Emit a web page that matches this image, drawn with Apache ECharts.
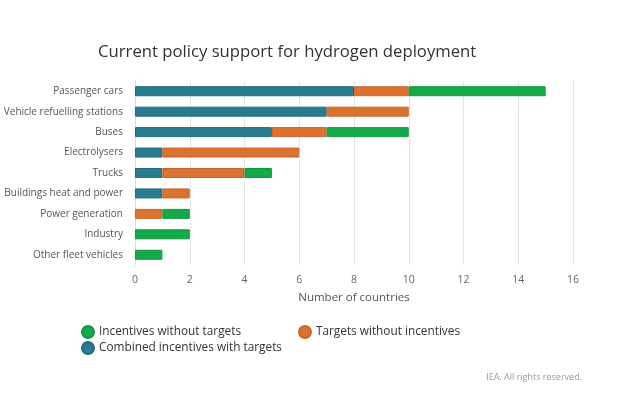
<!DOCTYPE html>
<html>
<head>
<meta charset="utf-8">
<script src="https://cdn.jsdelivr.net/npm/echarts@6/dist/echarts.min.js"></script>
<style>
html,body{margin:0;padding:0;background:#fff;}
#main{width:640px;height:399px;}
</style>
</head>
<body>
<div id="main"></div>
<script>
// categories top to bottom
var categories = ['Passenger cars','Vehicle refuelling stations','Buses','Electrolysers','Trucks','Buildings heat and power','Power generation','Industry','Other fleet vehicles'];
var combined = [8, 7, 5, 1, 1, 1, 0, 0, 0];
var targetsOnly = [2, 3, 2, 5, 3, 1, 1, 0, 0];
var incentivesOnly = [5, 0, 3, 0, 1, 0, 1, 2, 1];
var xTicks = [0, 2, 4, 6, 8, 10, 12, 14, 16];

var font = '"Open Sans", "Noto Sans", sans-serif';
var colBlue = '#2b7b90', colOrange = '#d9732f', colGreen = '#14aa4b';

function barSeries(name, data, color, border){
    return {
        name: name,
        type: 'bar',
        stack: 'all',
        data: data.map(function(v){ return v === 0 ? null : v; }),
        barWidth: 10,
        itemStyle: {color: color, borderColor: border, borderWidth: 1},
        emphasis: {disabled: true}
    };
}

var myChart = echarts.init(document.getElementById('main'));
var option = {
    animation: false,
    textStyle: {fontFamily: font},
    title: {
        text: 'Current policy support for hydrogen deployment',
        left: 93, top: 39,
        textStyle: {fontFamily: font, fontSize: 16.7, fontWeight: 'normal', color: '#333'}
    },
    legend: [{
        left: 76, top: 320, orient: 'vertical', itemGap: 2,
        icon: 'circle', itemWidth: 12, itemHeight: 12,
        textStyle: {fontFamily: font, fontSize: 11.8, color: '#333'},
        data: ['Incentives without targets', 'Combined incentives with targets']
    }, {
        left: 293, top: 320,
        icon: 'circle', itemWidth: 12, itemHeight: 12,
        textStyle: {fontFamily: font, fontSize: 11.8, color: '#333'},
        data: ['Targets without incentives']
    }],
    grid: {left: 135, right: 67, top: 81, bottom: 134, containLabel: false, outerBoundsMode: 'none'},
    xAxis: {
        type: 'value', min: 0, max: 16, interval: 2,
        name: 'Number of countries', nameLocation: 'middle', nameGap: 27,
        nameTextStyle: {fontFamily: font, fontSize: 11.5, color: '#555'},
        axisLine: {show: false},
        axisTick: {show: false},
        axisLabel: {color: '#666', fontSize: 10.5, margin: 10,
            formatter: function(v){ return xTicks.indexOf(v) >= 0 ? String(v) : ''; }},
        splitLine: {show: true, lineStyle: {color: '#e4e4e4', width: 1}}
    },
    yAxis: {
        type: 'category', inverse: true, data: categories,
        axisLine: {show: true, lineStyle: {color: '#d5dbe8', width: 1}},
        axisTick: {show: false},
        axisLabel: {color: '#555', fontSize: 10, margin: 12}
    },
    series: [
        barSeries('Combined incentives with targets', combined, colBlue, '#1f6b7e'),
        barSeries('Targets without incentives', targetsOnly, colOrange, '#c9652a'),
        barSeries('Incentives without targets', incentivesOnly, colGreen, '#0f9a40')
    ],
    graphic: [{
        type: 'text', right: 58, top: 373,
        style: {text: 'IEA. All rights reserved.', fill: '#999', fontSize: 9, fontFamily: font}
    }]
};
myChart.setOption(option);
</script>
</body>
</html>
